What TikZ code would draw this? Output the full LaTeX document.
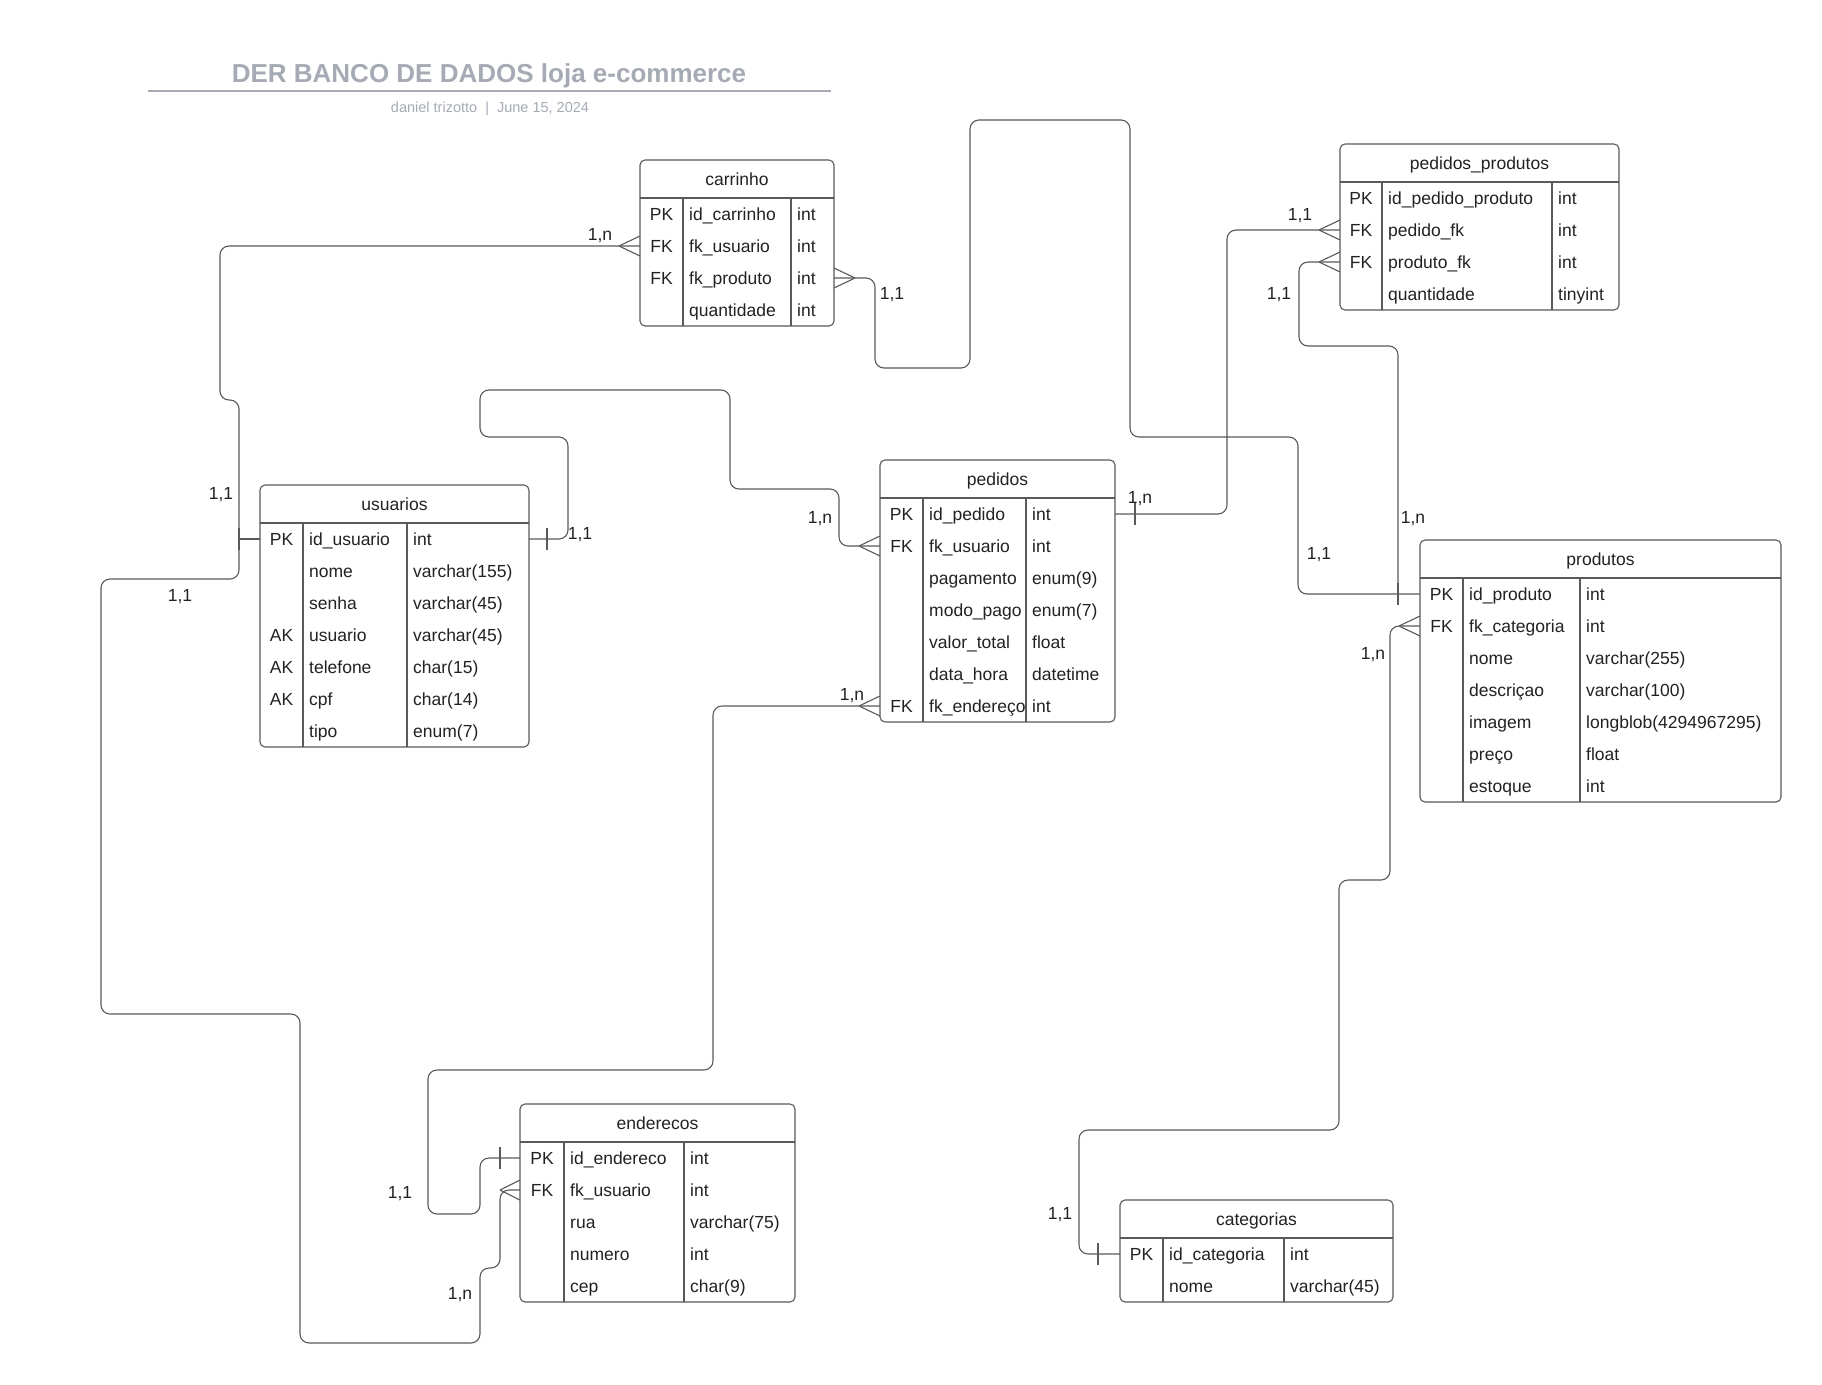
\documentclass[tikz,border=0pt]{standalone}
\usepackage{fontspec}
\setmainfont{Liberation Sans}
\usetikzlibrary{positioning}

\definecolor{linegray}{HTML}{5A5A5A}
\definecolor{textgray}{HTML}{222222}
\definecolor{titlegray}{HTML}{A5AAB4}

\tikzset{
  conn/.style={draw=linegray, line width=1.1pt, rounded corners=9pt},
  tablebox/.style={draw=linegray, line width=1.1pt, rounded corners=5pt, anchor=north west, inner sep=0pt, outer sep=0pt},
  tableline/.style={draw=linegray, line width=1.1pt},
  rowbox/.style={anchor=north west, minimum height=32pt, inner sep=0pt, outer sep=0pt},
  cell/.style={font=\fontsize{17.5}{21}\selectfont, text=textgray, inner sep=0pt, text height=12.5pt, text depth=0pt},
  card/.style={cell},
}

% one table: id, north west corner, width, first and second divider, rows, title, rows
\newcommand{\ertable}[8]{%
  \pgfmathsetmacro\tabh{38+#6*32}
  \node[tablebox, minimum width=#3pt, minimum height=\tabh pt] (#1) at (#2) {};
  \node[cell] (#1-title) at ([yshift=-19pt]#1.north) {#7};
  \draw[tableline] ([yshift=-38pt]#1.north west) -- ([yshift=-38pt]#1.north east);
  \draw[tableline] ([xshift=#4pt,yshift=-38pt]#1.north west) -- ([xshift=#4pt]#1.south west);
  \draw[tableline] ([xshift=#5pt,yshift=-38pt]#1.north west) -- ([xshift=#5pt]#1.south west);
  \foreach \kk/\fd/\ty [count=\i] in {#8} {
    \pgfmathsetmacro\rowoff{38+(\i-1)*32}
    \node[rowbox, minimum width=#3pt] (#1-\i) at ([yshift=-\rowoff pt]#1.north west) {};
    \node[cell] at ([xshift=#4pt/2]#1-\i.west) {\kk};
    \node[cell, anchor=west] at ([xshift=#4pt+6pt]#1-\i.west) {\fd};
    \node[cell, anchor=west] at ([xshift=#5pt+6pt]#1-\i.west) {\ty};
  }
}
\newcommand{\crowfoot}[2]{%
  \draw[tableline] ([xshift=#2]#1) -- ([yshift=10pt]#1)
                   ([xshift=#2]#1) -- ([yshift=-10pt]#1);}
\newcommand{\onebar}[2]{%
  \draw[tableline] ([xshift=#2,yshift=11pt]#1) -- ([xshift=#2,yshift=-11pt]#1);}

\begin{document}
\begin{tikzpicture}[x=1pt, y=-1pt]
  \fill[white] (0,0) rectangle (1822,1384);
  \useasboundingbox (0,0) rectangle (1822,1384);

  \node[font=\fontsize{26}{30}\selectfont\bfseries, text=titlegray] (title) at (489,76) {DER BANCO DE DADOS loja e-commerce};
  \draw[titlegray, line width=1.5pt] (148,91) -- (831,91);
  \node[font=\fontsize{14.5}{17}\selectfont, text=titlegray] (subtitle) at (490,109) {daniel trizotto \ | \ June 15, 2024};

  \ertable{carrinho}{640,160}{194}{43}{151}{4}{carrinho}{PK/id\_carrinho/int, FK/fk\_usuario/int, FK/fk\_produto/int, {}/quantidade/int}
  \ertable{pedprod}{1340,144}{279}{42}{212}{4}{pedidos\_produtos}{PK/id\_pedido\_produto/int, FK/pedido\_fk/int, FK/produto\_fk/int, {}/quantidade/tinyint}
  \ertable{usuarios}{260,485}{269}{43}{147}{7}{usuarios}{PK/id\_usuario/int, {}/nome/varchar(155), {}/senha/varchar(45), AK/usuario/varchar(45), AK/telefone/char(15), AK/cpf/char(14), {}/tipo/enum(7)}
  \ertable{pedidos}{880,460}{235}{43}{146}{7}{pedidos}{PK/id\_pedido/int, FK/fk\_usuario/int, {}/pagamento/enum(9), {}/modo\_pago/enum(7), {}/valor\_total/float, {}/data\_hora/datetime, FK/fk\_endereço/int}
  \ertable{produtos}{1420,540}{361}{43}{160}{7}{produtos}{PK/id\_produto/int, FK/fk\_categoria/int, {}/nome/varchar(255), {}/descriçao/varchar(100), {}/imagem/longblob(4294967295), {}/preço/float, {}/estoque/int}
  \ertable{enderecos}{520,1104}{275}{44}{164}{5}{enderecos}{PK/id\_endereco/int, FK/fk\_usuario/int, {}/rua/varchar(75), {}/numero/int, {}/cep/char(9)}
  \ertable{categorias}{1120,1200}{273}{43}{164}{2}{categorias}{PK/id\_categoria/int, {}/nome/varchar(45)}

  \coordinate (ujoin) at (239,539);
  \coordinate (pjoin) at (1398,594);

  % usuarios - carrinho
  \draw[tableline] (usuarios-1.west) -- (ujoin);
  \draw[conn] (carrinho-2.west) -- (220,246) -- (220,400) -- (239,400) -- (ujoin);
  \crowfoot{carrinho-2.west}{-21pt}
  \onebar{usuarios-1.west}{-21pt}
  % usuarios - enderecos
  \draw[conn] (ujoin) -- (239,579) -- (101,579) -- (101,1014) -- (300,1014) -- (300,1343) -- (480,1343) -- (480,1268) -- (500,1268) -- (500,1190) -- (enderecos-2.west);
  \crowfoot{enderecos-2.west}{-20pt}
  % usuarios - pedidos
  \draw[conn] (usuarios-1.east) -- (568,539) -- (568,437) -- (480,437) -- (480,390) -- (730,390) -- (730,489) -- (839,489) -- (839,546) -- (pedidos-2.west);
  \onebar{usuarios-1.east}{18pt}
  \crowfoot{pedidos-2.west}{-21pt}
  % enderecos - pedidos
  \draw[conn] (enderecos-1.west) -- (480,1158) -- (480,1214) -- (428,1214) -- (428,1070) -- (713,1070) -- (713,706) -- (pedidos-7.west);
  \onebar{enderecos-1.west}{-20pt}
  \crowfoot{pedidos-7.west}{-21pt}
  % carrinho - produtos
  \draw[conn] (carrinho-3.east) -- (875,278) -- (875,368) -- (970,368) -- (970,120) -- (1130,120) -- (1130,437) -- (1298,437) -- (1298,594) -- (produtos-1.west);
  \crowfoot{carrinho-3.east}{21pt}
  \onebar{produtos-1.west}{-22pt}
  % pedidos - pedidos_produtos
  \draw[conn] (pedidos-1.east) -- (1227,514) -- (1227,230) -- (pedprod-2.west);
  \onebar{pedidos-1.east}{20pt}
  \crowfoot{pedprod-2.west}{-21pt}
  % produtos - pedidos_produtos
  \draw[conn] (pjoin) -- (1398,346) -- (1299,346) -- (1299,262) -- (pedprod-3.west);
  \crowfoot{pedprod-3.west}{-21pt}
  % categorias - produtos
  \draw[conn] (categorias-1.west) -- (1079,1254) -- (1079,1130) -- (1339,1130) -- (1339,880) -- (1390,880) -- (1390,626) -- (produtos-2.west);
  \onebar{categorias-1.west}{-22pt}
  \crowfoot{produtos-2.west}{-21pt}

  \node[card] (cA1) at (600,234) {1,n};
  \node[card] (cA2) at (221,493) {1,1};
  \node[card] (cB1) at (180,595) {1,1};
  \node[card] (cB2) at (460,1293) {1,n};
  \node[card] (cC1) at (580,533) {1,1};
  \node[card] (cC2) at (820,517) {1,n};
  \node[card] (cD1) at (400,1192) {1,1};
  \node[card] (cD2) at (852,694) {1,n};
  \node[card] (cE1) at (892,293) {1,1};
  \node[card] (cE2) at (1319,553) {1,1};
  \node[card] (cF1) at (1140,497) {1,n};
  \node[card] (cF2) at (1300,214) {1,1};
  \node[card] (cG1) at (1279,293) {1,1};
  \node[card] (cG2) at (1413,517) {1,n};
  \node[card] (cH1) at (1060,1213) {1,1};
  \node[card] (cH2) at (1373,653) {1,n};
\end{tikzpicture}
\end{document}
